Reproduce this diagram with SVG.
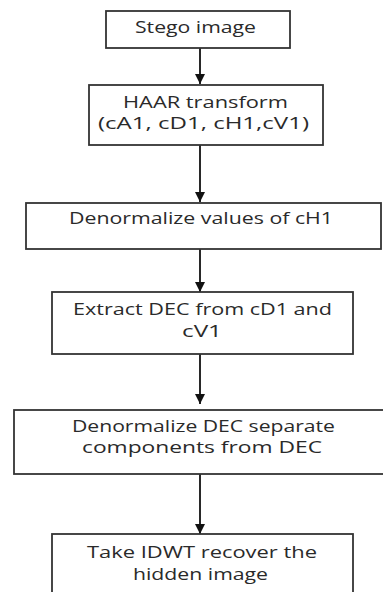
<svg xmlns="http://www.w3.org/2000/svg" width="383" height="592" viewBox="0 0 383 592">
<style>
.box{fill:#fff;stroke:#333;stroke-width:1.8}
.t{font-family:"Open Sans","Liberation Sans",sans-serif;font-size:16px;fill:#2a2a2a;}
.c{stroke:#111;stroke-width:1.8;fill:none}
</style>
<defs>
<marker id="ah" viewBox="0 0 10 10" refX="10" refY="5" markerWidth="10" markerHeight="11" markerUnits="userSpaceOnUse" orient="auto">
<path d="M0,0 L10,5 L0,10 Z" fill="#111"/>
</marker>
</defs>
<rect width="383" height="592" fill="#fff"/>
<g id="connectors">
<line class="c" x1="200" y1="48" x2="200" y2="84" marker-end="url(#ah)"/>
<line class="c" x1="200" y1="145" x2="200" y2="202" marker-end="url(#ah)"/>
<line class="c" x1="200" y1="249" x2="200" y2="292" marker-end="url(#ah)"/>
<line class="c" x1="200" y1="354" x2="200" y2="404" marker-end="url(#ah)"/>
<line class="c" x1="200" y1="474" x2="200" y2="534" marker-end="url(#ah)"/>
</g>
<g id="n1">
<rect class="box" x="106" y="11" width="184" height="37"/>
<text class="t" x="135" y="33" textLength="121" lengthAdjust="spacingAndGlyphs">Stego image</text>
</g>
<g id="n2">
<rect class="box" x="89" y="85" width="234" height="60"/>
<text class="t" x="123" y="108" textLength="165" lengthAdjust="spacingAndGlyphs">HAAR transform</text>
<text class="t" x="98" y="129" textLength="211" lengthAdjust="spacingAndGlyphs">(cA1, cD1, cH1,cV1)</text>
</g>
<g id="n3">
<rect class="box" x="26" y="203" width="355" height="46"/>
<text class="t" x="69" y="224" textLength="264" lengthAdjust="spacingAndGlyphs">Denormalize values of cH1</text>
</g>
<g id="n4">
<rect class="box" x="52" y="292" width="301" height="62"/>
<text class="t" x="73" y="315" textLength="259" lengthAdjust="spacingAndGlyphs">Extract DEC from cD1 and</text>
<text class="t" x="182" y="337" textLength="40" lengthAdjust="spacingAndGlyphs">cV1</text>
</g>
<g id="n5">
<rect class="box" x="14" y="410" width="380" height="64"/>
<text class="t" x="72" y="432" textLength="263" lengthAdjust="spacingAndGlyphs">Denormalize DEC separate</text>
<text class="t" x="82" y="453" textLength="240" lengthAdjust="spacingAndGlyphs">components from DEC</text>
</g>
<g id="n6">
<rect class="box" x="52" y="534" width="301" height="70"/>
<text class="t" x="87" y="558" textLength="230" lengthAdjust="spacingAndGlyphs">Take IDWT recover the</text>
<text class="t" x="133" y="580" textLength="135" lengthAdjust="spacingAndGlyphs">hidden image</text>
</g>
</svg>
